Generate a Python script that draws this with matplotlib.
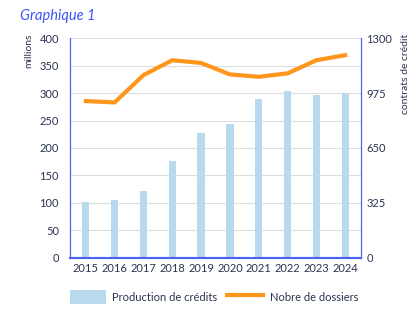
import matplotlib

matplotlib.use("Agg")
import matplotlib.pyplot as plt
from matplotlib.patches import Patch
from matplotlib.lines import Line2D

plt.rcParams["font.family"] = ["Lato", "DejaVu Sans"]

# data
years = ["2015", "2016", "2017", "2018", "2019", "2020", "2021", "2022", "2023", "2024"]
production = [101, 106, 121, 176, 227, 244, 290, 304, 297, 301]   # millions
dossiers = [928, 920, 1082, 1170, 1154, 1086, 1072, 1092, 1170, 1200]  # contrats

left_ticks = [0, 50, 100, 150, 200, 250, 300, 350, 400]
right_ticks = [0, 325, 650, 975, 1300]

BAR = "#b9daed"
LINE = "#ff961c"
SPINE = "#4a63f2"
TEXT = "#2b3450"
GRID = "#dddddd"

fig = plt.figure(figsize=(4.2, 3.31), dpi=100)
ax = fig.add_axes([70 / 420, 1 - 257.7 / 331, 291 / 420, 219.4 / 331])
x = list(range(len(years)))

ax.bar(x, production, width=0.25, color=BAR, zorder=2)
ax.set_ylim(0, 400)
ax.set_yticks(left_ticks)
ax.set_xlim(-0.55, len(years) - 0.45)
ax.set_xticks(x)
ax.set_xticklabels(years)
ax.grid(True, axis="y", color=GRID, lw=0.8, zorder=0)
ax.tick_params(length=0, labelsize=8, colors=TEXT, pad=4)
ax.tick_params(axis="y", pad=8)

ax2 = ax.twinx()
ax2.plot(x, dossiers, color=LINE, lw=3, solid_joinstyle="round", zorder=3)
ax2.set_ylim(0, 1300)
ax2.set_yticks(right_ticks)
ax2.tick_params(length=0, labelsize=8, colors=TEXT, pad=4)

for a in (ax, ax2):
    a.spines["top"].set_visible(False)
    a.spines["left"].set_color(SPINE)
    a.spines["right"].set_color(SPINE)
    a.spines["bottom"].set_color(SPINE)
    a.spines["left"].set_linewidth(0.8)
    a.spines["right"].set_linewidth(0.8)
    a.spines["bottom"].set_linewidth(1.5)

fig.text(20 / 420, 1 - 16 / 331, "Graphique 1", color="#3d55f5", fontsize=10.5,
         style="italic", va="center", ha="left")
fig.text(29 / 420, 1 - 34 / 331, "millions", rotation=90, color=TEXT, fontsize=7.5,
         va="top", ha="center")
fig.text(405 / 420, 1 - 34 / 331, "contrats de crédit", rotation=90, color=TEXT,
         fontsize=7.5, va="top", ha="center")

handles = [Patch(facecolor=BAR, edgecolor="none"), Line2D([0], [0], color=LINE, lw=3)]
fig.legend(handles, ["Production de crédits", "Nobre de dossiers"], loc="center left",
           bbox_to_anchor=(60 / 420, 1 - 297 / 331), ncol=2, frameon=False, fontsize=8,
           labelcolor=TEXT, handlelength=3.2, handleheight=1.6, columnspacing=0.9,
           handletextpad=0.6)

fig.savefig("out.png", dpi=100)
